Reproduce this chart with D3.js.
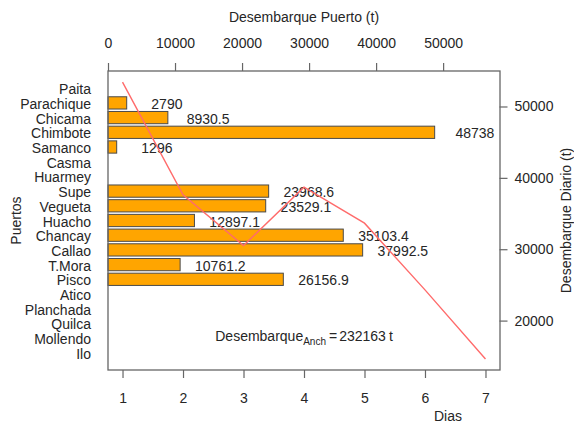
<!DOCTYPE html>
<html>
<head>
<meta charset="utf-8">
<script src="https://cdn.jsdelivr.net/npm/d3@7/dist/d3.min.js"></script>
<style>
  html, body { margin: 0; padding: 0; background: #fff; }
  svg { display: block; }
  text { font-family: "Liberation Sans", Arial, sans-serif; fill: #262626; }
</style>
</head>
<body>
<script>
// Ports listed north to south
const ports = ["Paita", "Parachique", "Chicama", "Chimbote", "Samanco", "Casma", "Huarmey",
  "Supe", "Vegueta", "Huacho", "Chancay", "Callao", "T.Mora", "Pisco",
  "Atico", "Planchada", "Quilca", "Mollendo", "Ilo"];
// Landings per port (t)
const landings = [0, 2790, 8930.5, 48738, 1296, 0, 0,
  23968.6, 23529.1, 12897.1, 35103.4, 37992.5, 10761.2, 26156.9,
  0, 0, 0, 0, 0];
// Daily landings (t)
const days = [1, 2, 3, 4, 5, 6, 7];
const dailyLandings = [53421, 37621, 30513, 38700, 33653, 24303, 14629];

const portTicks = [0, 10000, 20000, 30000, 40000, 50000];
const dailyTicks = [20000, 30000, 40000, 50000];
const dayTicks = [1, 2, 3, 4, 5, 6, 7];
const totalLabel = "232163";

const W = 574, H = 424;
const box = { left: 108, right: 500, top: 71, bottom: 370 };

const svg = d3.select("body").append("svg").attr("width", W).attr("height", H);

// Scales
const xPort = d3.scaleLinear().domain([0, d3.max(landings) * 1.2]).range([box.left, box.right]);
const yPort = d3.scaleBand().domain(ports).range([box.top, box.bottom])
  .paddingInner(1 / 6).paddingOuter(0.753);

const dayPad = (d3.max(days) - d3.min(days)) * 0.04;
const xDay = d3.scaleLinear().domain([d3.min(days) - dayPad, d3.max(days) + dayPad])
  .range([box.left, box.right]);
const [dMin, dMax] = d3.extent(dailyLandings);
const dPad = (dMax - dMin) * 0.04;
const yDaily = d3.scaleLinear().domain([dMin - dPad, dMax + dPad]).range([box.bottom, box.top]);

const fontSize = 14;
const axisColor = "#666";

// Bars
const portData = ports.map((p, i) => ({ port: p, value: landings[i] }));
svg.append("g").selectAll("rect")
  .data(portData.filter(d => d.value > 0))
  .join("rect")
  .attr("x", xPort(0))
  .attr("y", d => yPort(d.port))
  .attr("width", d => xPort(d.value) - xPort(0))
  .attr("height", yPort.bandwidth())
  .attr("fill", "#FFA500")
  .attr("stroke", "#4a4a4a")
  .attr("stroke-width", 1);

// Value labels beside bars
svg.append("g").selectAll("text")
  .data(portData.filter(d => d.value > 0))
  .join("text")
  .attr("x", d => xPort(d.value + 6000))
  .attr("y", d => yPort(d.port) + yPort.bandwidth() / 2 + 1)
  .attr("text-anchor", "middle")
  .attr("dominant-baseline", "central")
  .style("font-size", fontSize + "px")
  .text(d => String(d.value));

// Port names
svg.append("g").selectAll("text")
  .data(ports)
  .join("text")
  .attr("x", 91)
  .attr("y", d => yPort(d) + yPort.bandwidth() / 2 + 1)
  .attr("text-anchor", "end")
  .attr("dominant-baseline", "central")
  .style("font-size", fontSize + "px")
  .text(d => d);

// Daily landings line
const line = d3.line().x(d => xDay(d.day)).y(d => yDaily(d.value));
svg.append("path")
  .datum(days.map((d, i) => ({ day: d, value: dailyLandings[i] })))
  .attr("d", line)
  .attr("fill", "none")
  .attr("stroke", "#ff6b6b")
  .attr("stroke-width", 1.4);

// Axes
function styleAxis(g) {
  g.select(".domain").remove();
  g.selectAll(".tick line").attr("stroke", axisColor).attr("stroke-width", 1.2);
  g.selectAll(".tick text").style("font-size", fontSize + "px").attr("fill", "#262626")
    .style("font-family", "'Liberation Sans', Arial, sans-serif");
}

svg.append("g")
  .attr("transform", `translate(0,${box.top})`)
  .call(d3.axisTop(xPort).tickValues(portTicks).tickSize(8).tickPadding(15).tickFormat(d3.format("d")))
  .call(styleAxis);

svg.append("g")
  .attr("transform", `translate(0,${box.bottom})`)
  .call(d3.axisBottom(xDay).tickValues(dayTicks).tickSize(8).tickPadding(15).tickFormat(d3.format("d")))
  .call(styleAxis);

svg.append("g")
  .attr("transform", `translate(${box.right - 0.5},0)`)
  .call(d3.axisRight(yDaily).tickValues(dailyTicks).tickSize(8).tickPadding(7).tickFormat(d3.format("d")))
  .call(styleAxis);

// Frame
svg.append("rect")
  .attr("x", box.left).attr("y", box.top)
  .attr("width", box.right - box.left).attr("height", box.bottom - box.top)
  .attr("fill", "none").attr("stroke", axisColor).attr("stroke-width", 1.3);

// Axis titles
svg.append("text").attr("x", 304).attr("y", 22).attr("text-anchor", "middle")
  .style("font-size", fontSize + "px").text("Desembarque Puerto (t)");
svg.append("text").attr("x", 448).attr("y", 421).attr("text-anchor", "middle")
  .style("font-size", fontSize + "px").text("Dias");
svg.append("text")
  .attr("transform", `translate(16,${(box.top + box.bottom) / 2}) rotate(-90)`)
  .attr("text-anchor", "middle").attr("dominant-baseline", "central")
  .style("font-size", fontSize + "px").text("Puertos");
svg.append("text")
  .attr("transform", `translate(566,${(box.top + box.bottom) / 2}) rotate(-90)`)
  .attr("text-anchor", "middle").attr("dominant-baseline", "central")
  .style("font-size", fontSize + "px").text("Desembarque Diario (t)");

// Total landings annotation
const note = svg.append("text").attr("x", 304).attr("y", 341)
  .attr("text-anchor", "middle").style("font-size", fontSize + "px");
note.append("tspan").text("Desembarque");
note.append("tspan").attr("dy", 4).style("font-size", "10px").text("Anch");
note.append("tspan").attr("dy", -4).attr("dx", 3).text("=");
note.append("tspan").attr("dx", 2).text(totalLabel);
note.append("tspan").attr("dx", 3).text("t");
</script>
</body>
</html>
